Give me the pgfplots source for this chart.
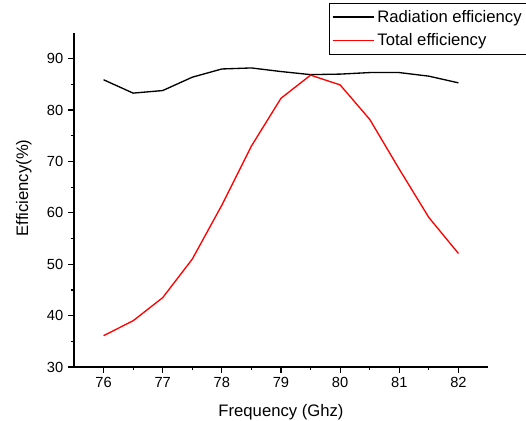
\documentclass[border=0pt]{standalone}
\usepackage{fontspec}
\setmainfont{Liberation Sans}
\usepackage{pgfplots}
\pgfplotsset{compat=1.18}
\begin{document}
\begin{tikzpicture}
\begin{axis}[
  at={(0,0)}, anchor=south west,
  scale only axis,
  width=310.5pt, height=250.5pt,
  xmin=75.5, xmax=82.5, ymin=30, ymax=95,
  axis x line*=bottom, axis y line*=left,
  axis line style={line width=1pt},
  xtick={76,77,...,82}, ytick={30,40,...,90},
  minor x tick num=1, minor y tick num=1,
  tick align=outside,
  major tick length=4.5pt, minor tick length=2.5pt,
  tick style={line width=0.9pt, black},
  /pgf/number format/assume math mode=true,
  ticklabel style={font=\fontsize{11}{13}\selectfont},
  label style={font=\fontsize{12.5}{15}\selectfont},
  xlabel={Frequency (Ghz)},
  ylabel={Efficiency(\%)},
  xlabel style={at={(axis description cs:0.5,-0.135)}, anchor=center},
  ylabel style={at={(axis description cs:-0.121,0.536)}, anchor=center},
  legend style={
    at={(axis description cs:0.616,1.0898)}, anchor=north west,
    draw=black, line width=0.6pt,
    font=\fontsize{12.5}{15}\selectfont,
    legend cell align=left,
    inner xsep=2pt, inner ysep=3pt,
    row sep=3pt,
  },
  legend image code/.code={\draw[#1] (0pt,0pt) -- (28pt,0pt); \path (0pt,0pt) -- (31pt,0pt);},
]
\addplot[black, line width=1pt] coordinates {
 (76,85.9) (76.5,83.3) (77,83.8) (77.5,86.4) (78,88.0) (78.5,88.2)
 (79,87.5) (79.5,86.9) (80,87.0) (80.5,87.3) (81,87.3) (81.5,86.6) (82,85.3)
};
\addlegendentry{Radiation efficiency}
\addplot[red, line width=1pt] coordinates {
 (76,36.1) (76.5,39.0) (77,43.5) (77.5,51.0) (78,61.5) (78.5,73.0)
 (79,82.3) (79.5,86.8) (80,84.9) (80.5,78.2) (81,68.5) (81.5,59.1) (82,52.1)
};
\addlegendentry{Total efficiency}
\end{axis}
\pgfresetboundingbox
\path[use as bounding box] (-55.5pt,-40.5pt) rectangle (339pt,275.25pt);
\end{tikzpicture}
\end{document}
